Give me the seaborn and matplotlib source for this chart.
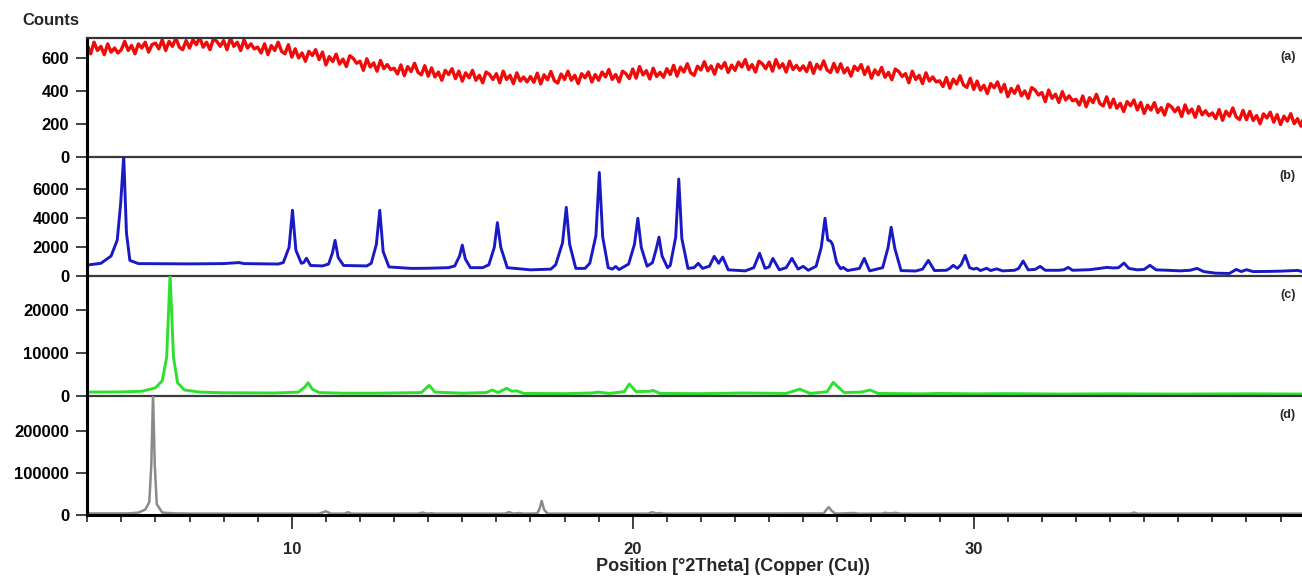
import matplotlib
matplotlib.use("Agg")
import matplotlib.pyplot as plt
from matplotlib.ticker import MultipleLocator
import numpy as np
import pandas as pd
import seaborn as sns

# (a) amorphous sample, one reading every 0.1 deg starting at 4.0 deg
a_start = 4.0
a_step = 0.1
a_counts = [
    680, 625, 695, 645, 670, 620, 685, 635, 660, 630,
    650, 700, 645, 675, 625, 685, 660, 695, 635, 680,
    690, 655, 710, 645, 700, 670, 720, 665, 650, 705,
    660, 710, 680, 725, 665, 695, 650, 715, 700, 670,
    705, 650, 720, 670, 695, 645, 710, 660, 685, 655,
    665, 630, 685, 620, 675, 645, 695, 640, 625, 680,
    605, 655, 600, 630, 580, 640, 615, 650, 590, 635,
    558, 608, 578, 623, 563, 593, 548, 613, 598, 568,
    580, 525, 595, 545, 570, 520, 585, 535, 560, 530,
    538, 503, 558, 493, 548, 518, 568, 513, 498, 553,
    490, 540, 485, 515, 465, 525, 500, 535, 475, 520,
    460, 510, 480, 525, 465, 495, 450, 515, 500, 470,
    505, 450, 520, 470, 495, 445, 510, 460, 485, 455,
    488, 453, 508, 443, 498, 468, 518, 463, 448, 503,
    470, 520, 465, 495, 445, 505, 480, 515, 455, 500,
    465, 515, 485, 530, 470, 500, 455, 520, 505, 475,
    533, 478, 548, 498, 523, 473, 538, 488, 513, 483,
    535, 500, 555, 490, 545, 515, 565, 510, 495, 550,
    527, 577, 522, 552, 502, 562, 537, 572, 512, 557,
    525, 575, 545, 590, 530, 560, 515, 580, 565, 535,
    575, 520, 590, 540, 565, 515, 580, 530, 555, 525,
    552, 517, 572, 507, 562, 532, 582, 527, 512, 567,
    515, 565, 510, 540, 490, 550, 525, 560, 500, 545,
    478, 528, 498, 543, 483, 513, 468, 533, 518, 488,
    505, 450, 520, 470, 495, 445, 510, 460, 485, 455,
    462, 427, 482, 417, 472, 442, 492, 437, 422, 477,
    410, 460, 405, 435, 385, 445, 420, 455, 395, 440,
    366, 416, 386, 431, 371, 401, 356, 421, 406, 376,
    391, 336, 406, 356, 381, 331, 396, 346, 371, 341,
    350, 315, 370, 305, 360, 330, 380, 325, 310, 365,
    301, 351, 296, 326, 276, 336, 311, 346, 286, 331,
    265, 315, 285, 330, 270, 300, 255, 320, 305, 275,
    301, 246, 316, 266, 291, 241, 306, 256, 281, 251,
    268, 233, 288, 223, 278, 248, 298, 243, 228, 283,
    227, 277, 222, 252, 202, 262, 237, 272, 212, 257,
    198, 248, 218, 263, 203, 233, 188, 253, 238, 208,
]

# (b) crystalline sample, outline
b_theta = [4.0, 4.4, 4.7, 4.88, 4.98, 5.07, 5.15, 5.25, 5.5, 7.0, 8.0, 8.45, 8.6, 9.6,
           9.75, 9.92, 10.02, 10.12, 10.28, 10.35, 10.43, 10.55, 10.9,
           11.08, 11.19, 11.27, 11.36, 11.52, 12.2,
           12.33, 12.48, 12.58, 12.68, 12.85, 13.5, 14.0, 14.6,
           14.78, 14.92, 15.0, 15.09, 15.24, 15.6,
           15.78, 15.94, 16.03, 16.13, 16.32, 17.0, 17.6,
           17.74, 17.94, 18.05, 18.15, 18.33, 18.6,
           18.74, 18.92, 19.02, 19.12, 19.28, 19.4, 19.5, 19.6,
           19.88, 20.05, 20.15, 20.25, 20.42,
           20.58, 20.69, 20.77, 20.86, 21.02,
           21.1, 21.26, 21.35, 21.44, 21.62,
           21.8, 21.92, 22.05, 22.25, 22.39, 22.52, 22.64, 22.8, 23.3,
           23.55, 23.72, 23.88, 24.0, 24.11, 24.3, 24.5, 24.67, 24.85, 25.0, 25.15,
           25.38, 25.53, 25.64, 25.72, 25.8, 25.86, 25.98, 26.1, 26.17, 26.3,
           26.65, 26.79, 26.95, 27.33, 27.49, 27.58, 27.69, 27.87, 28.3,
           28.5, 28.67, 28.85, 29.2, 29.3, 29.4, 29.52, 29.63, 29.75, 29.88,
           30.0, 30.09, 30.2, 30.38, 30.5, 30.67, 30.85, 31.2,
           31.32, 31.45, 31.6, 31.8, 31.95, 32.1, 32.5, 32.65, 32.77, 32.9,
           33.4, 33.7, 33.9, 34.1, 34.25, 34.41, 34.55, 34.8,
           35.0, 35.17, 35.35, 35.7, 36.05, 36.35, 36.55, 36.75, 37.1, 37.5,
           37.7, 37.85, 38.0, 38.2, 38.6, 39.0, 39.5, 39.7]
b_counts = [780, 900, 1400, 2500, 5000, 8300, 3000, 1100, 880, 860, 880, 950, 880, 850,
            950, 2000, 4550, 1800, 900, 950, 1250, 750, 720,
            850, 1600, 2480, 1300, 750, 720,
            900, 2200, 4550, 1700, 650, 550, 560, 600,
            720, 1400, 2150, 1200, 600, 600,
            800, 2000, 3700, 2000, 600, 450, 500,
            800, 2300, 4750, 2200, 550, 550,
            900, 2800, 7150, 2700, 600, 500, 680, 470,
            850, 2200, 4000, 2000, 700,
            950, 1900, 2700, 1400, 600,
            750, 2700, 6700, 2600, 550,
            600, 900, 550, 700, 1380, 900, 1330, 450, 380,
            600, 1590, 550, 650, 1240, 450, 600, 1240, 500, 690, 420,
            700, 2000, 4000, 2500, 2430, 2200, 950, 520, 620, 400,
            550, 1240, 380, 600, 2000, 3380, 1900, 400, 370,
            500, 1100, 400, 420, 550, 760, 550, 800, 1450, 600,
            500, 560, 400, 560, 400, 520, 380, 420,
            550, 1060, 450, 480, 690, 420, 420, 460, 620, 420,
            460, 550, 620, 580, 600, 920, 550, 450,
            480, 760, 450, 420, 380, 420, 550, 330, 220, 200,
            480, 330, 460, 330, 340, 360, 410, 300]

# (c) second crystalline form
c_theta = [4.0, 5.0, 5.6, 6.0, 6.2, 6.33, 6.43, 6.53, 6.65, 6.85, 7.3, 8.0, 9.5,
           10.2, 10.38, 10.48, 10.6, 10.8, 11.5, 12.5, 13.8, 14.03, 14.2, 15.0,
           15.7, 15.88, 16.05, 16.3, 16.45, 16.6, 16.8, 18.0, 18.8, 19.0, 19.3,
           19.75, 19.9, 20.1, 20.5, 20.6, 20.8, 22.0, 22.9, 23.2, 24.5, 24.9, 25.2,
           25.7, 25.88, 26.2, 26.7, 26.96, 27.2, 28.5, 29.0, 30.0, 31.0, 32.5,
           34.0, 36.0, 38.0, 39.7]
c_counts = [800, 850, 1000, 1800, 3500, 9000, 28500, 9000, 3000, 1300, 800, 650, 600,
            800, 2000, 3000, 1500, 700, 550, 550, 700, 2400, 800, 550,
            700, 1300, 700, 1700, 1000, 1100, 500, 450, 600, 800, 500,
            900, 2700, 900, 1000, 1200, 500, 450, 550, 600, 500, 1500, 500,
            900, 3100, 700, 800, 1300, 500, 400, 500, 400, 450, 350,
            400, 350, 400, 350]

# (d) reference form
d_theta = [4.0, 5.2, 5.5, 5.7, 5.82, 5.88, 5.93, 5.98, 6.04, 6.2, 6.6, 7.2,
           10.8, 11.0, 11.15, 11.55, 11.65, 11.75, 13.7, 13.84, 13.95, 14.1, 14.2,
           16.25, 16.37, 16.5, 16.67, 16.8, 17.2, 17.27, 17.33, 17.4, 17.5,
           20.45, 20.57, 20.7, 20.8, 20.9, 25.6, 25.68, 25.75, 25.85, 25.95,
           26.5, 26.6, 27.3, 27.4, 27.55, 27.7, 27.85, 34.6, 34.7, 34.8, 39.7]
d_counts = [3000, 3000, 5000, 12000, 30000, 120000, 290000, 120000, 25000, 5000, 3000, 2500,
            2500, 8000, 2500, 2500, 6000, 2500, 2500, 5000, 2500, 3500, 2500,
            2500, 6000, 2500, 4000, 2500, 3000, 15000, 33000, 12000, 2500,
            2500, 6000, 3000, 4000, 2500, 3000, 12000, 18000, 8000, 2500,
            4000, 2500, 2500, 4500, 3000, 4500, 2500, 2500, 5000, 2500, 2500]

panel_tags = ['(a)', '(b)', '(c)', '(d)']
panel_ticks = [[0, 200, 400, 600], [0, 2000, 4000, 6000],
               [0, 10000, 20000], [0, 100000, 200000]]
x_major = [10, 20, 30]

a_theta = np.round(a_start + a_step * np.arange(len(a_counts)), 2)
traces = [
    pd.DataFrame({'theta': a_theta, 'counts': a_counts}),
    pd.DataFrame({'theta': b_theta, 'counts': b_counts}),
    pd.DataFrame({'theta': c_theta, 'counts': c_counts}),
    pd.DataFrame({'theta': d_theta, 'counts': d_counts}),
]
colors = ['#f00a0a', '#1a1ac4', '#2ee02e', '#8a8a8a']
widths = [2.4, 2.1, 2.1, 1.8]
tops = [720, 8200, 28000, 285000]

sns.set_theme(style='white')
plt.rcParams['font.family'] = ['Liberation Sans', 'DejaVu Sans']
plt.rcParams['font.weight'] = 'bold'

fig, axes = plt.subplots(4, 1, sharex=True, figsize=(13.02, 5.77), dpi=100,
                         gridspec_kw={'hspace': 0})
fig.subplots_adjust(left=0.067, right=1.0, top=0.934, bottom=0.108)

for i, ax in enumerate(axes):
    ax.patch.set_visible(False)
    sns.lineplot(data=traces[i], x='theta', y='counts', ax=ax, color=colors[i],
                 linewidth=widths[i], estimator=None, sort=False)
    ax.set_xlim(4.0, 39.63)
    ax.set_ylim(0, tops[i])
    ax.set_yticks(panel_ticks[i])
    ax.set_yticklabels([str(t) for t in panel_ticks[i]], fontsize=12, fontweight='bold')
    ax.set_xlabel('')
    ax.set_ylabel('')
    ax.spines['right'].set_visible(False)
    ax.spines['left'].set_color('black')
    ax.spines['left'].set_linewidth(2.2)
    ax.spines['bottom'].set_color('#3a3a3a')
    ax.spines['bottom'].set_linewidth(1.6)
    if i == 0:
        ax.spines['top'].set_color('#333333')
        ax.spines['top'].set_linewidth(1.6)
    else:
        ax.spines['top'].set_visible(False)
    ax.tick_params(axis='y', direction='out', length=8, width=1.3, color='#333333',
                   left=True, pad=5, labelcolor='black')
    ax.tick_params(axis='x', which='both', bottom=False)
    ax.text(0.995, 0.84, panel_tags[i], transform=ax.transAxes, ha='right',
            va='center', fontsize=9, fontweight='bold')

bottom = axes[-1]
bottom.spines['bottom'].set_color('black')
bottom.spines['bottom'].set_linewidth(2.2)
bottom.set_xticks(x_major)
bottom.set_xticklabels([str(t) for t in x_major], fontsize=12, fontweight='bold')
bottom.xaxis.set_minor_locator(MultipleLocator(1))
bottom.tick_params(axis='x', which='major', bottom=True, direction='out',
                   length=10, width=1.3, color='#333333', pad=10)
bottom.tick_params(axis='x', which='minor', bottom=True, direction='out',
                   length=5, width=1.3, color='#333333')

fig.text(0.563, 0.019, 'Position [°2Theta] (Copper (Cu))', fontsize=13,
         fontweight='bold', ha='center', va='center')
fig.text(0.017, 0.965, 'Counts', fontsize=12, fontweight='bold', ha='left', va='center')

fig.savefig('out.png', dpi=100)
